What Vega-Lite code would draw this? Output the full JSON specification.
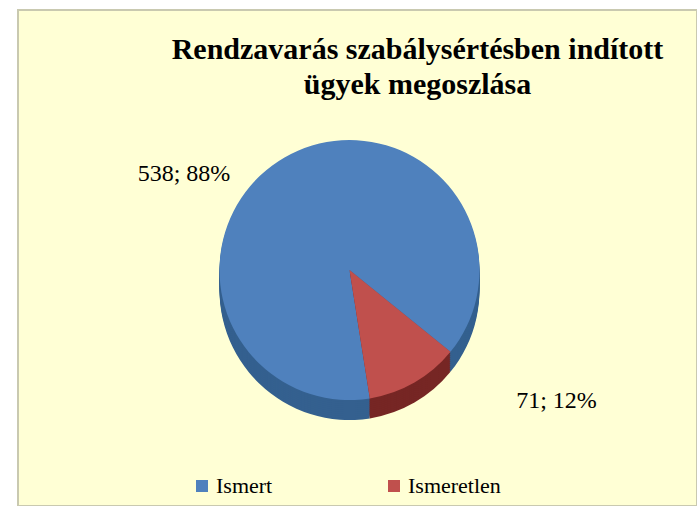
{
  "$schema": "https://vega.github.io/schema/vega-lite/v6.json",
  "autosize": "none",
  "width": 679,
  "height": 496,
  "padding": {"left": 18, "top": 10, "right": 0, "bottom": 0},
  "background": "#FFFFFF",
  "view": {"fill": "#FFFFD5", "stroke": "#C9C9B0", "strokeWidth": 2},
  "config": {
    "legend": {"labelFont": "Liberation Serif", "labelFontSize": 22, "labelColor": "#000000", "labelOffset": 3, "symbolType": "square", "symbolSize": 144, "symbolStrokeWidth": 0}
  },
  "title": {
    "text": ["Rendzavarás szabálysértésben indított", "ügyek megoszlása"],
    "font": "Liberation Serif",
    "fontSize": 30,
    "fontWeight": "bold",
    "color": "#000000",
    "anchor": "middle",
    "frame": "group",
    "baseline": "top",
    "lineHeight": 35,
    "offset": -90,
    "dx": 60
  },
  "data": {
    "values": [
      {"status": "Ismert", "count": 538, "label": "538; 88%", "order": 1},
      {"status": "Ismeretlen", "count": 71, "label": "71; 12%", "order": 2}
    ]
  },
  "encoding": {
    "theta": {"field": "count", "type": "quantitative", "stack": true, "scale": {"range": [2.9845, 9.2677]}},
    "order": {"field": "order", "type": "quantitative"}
  },
  "resolve": {"scale": {"color": "independent"}, "legend": {"color": "independent"}},
  "layer": [
    {
      "encoding": {"color": {"field": "status", "type": "nominal", "legend": null, "scale": {"domain": ["Ismert", "Ismeretlen"], "range": ["#34608F", "#762624"]}}},
      "layer": [
        {"mark": {"type": "arc", "outerRadius": 130, "xOffset": -8, "yOffset": 32}},
        {"mark": {"type": "arc", "outerRadius": 130, "xOffset": -8, "yOffset": 30}},
        {"mark": {"type": "arc", "outerRadius": 130, "xOffset": -8, "yOffset": 28}},
        {"mark": {"type": "arc", "outerRadius": 130, "xOffset": -8, "yOffset": 26}},
        {"mark": {"type": "arc", "outerRadius": 130, "xOffset": -8, "yOffset": 24}},
        {"mark": {"type": "arc", "outerRadius": 130, "xOffset": -8, "yOffset": 22}},
        {"mark": {"type": "arc", "outerRadius": 130, "xOffset": -8, "yOffset": 20}},
        {"mark": {"type": "arc", "outerRadius": 130, "xOffset": -8, "yOffset": 18}},
        {"mark": {"type": "arc", "outerRadius": 130, "xOffset": -8, "yOffset": 16}},
        {"mark": {"type": "arc", "outerRadius": 130, "xOffset": -8, "yOffset": 14}}
      ]
    },
    {
      "mark": {"type": "arc", "outerRadius": 130, "xOffset": -8, "yOffset": 12},
      "encoding": {
        "color": {
          "field": "status", "type": "nominal",
          "scale": {"domain": ["Ismert", "Ismeretlen"], "range": ["#4F81BD", "#C0504D"]},
          "sort": ["Ismert", "Ismeretlen"],
          "legend": {
            "title": null,
            "orient": "none",
            "legendX": 173,
            "legendY": 465,
            "direction": "horizontal",
            "columnPadding": 110,
            "symbolType": "square",
            "symbolSize": 144,
            "symbolStrokeWidth": 0,
            "labelFont": "Liberation Serif",
            "labelFontSize": 22,
            "labelColor": "#000000",
            "labelOffset": 3
          }
        }
      }
    },
    {
      "transform": [
        {"stack": "count", "groupby": [], "sort": [{"field": "order", "order": "ascending"}], "as": ["c0", "c1"]},
        {"calculate": "(datum.c0 + datum.c1) / 2", "as": "mid"},
        {"filter": "datum.status == 'Ismert'"}
      ],
      "mark": {"type": "text", "radius": 125, "xOffset": -8, "yOffset": 12, "dx": -103, "dy": 12, "font": "Liberation Serif", "fontSize": 24, "color": "#000000", "align": "center", "baseline": "middle"},
      "encoding": {
        "theta": {"field": "mid", "type": "quantitative", "stack": null},
        "order": null,
        "text": {"field": "label"}
      }
    },
    {
      "transform": [
        {"stack": "count", "groupby": [], "sort": [{"field": "order", "order": "ascending"}], "as": ["c0", "c1"]},
        {"calculate": "(datum.c0 + datum.c1) / 2", "as": "mid"},
        {"filter": "datum.status == 'Ismeretlen'"}
      ],
      "mark": {"type": "text", "radius": 140, "xOffset": -8, "yOffset": 12, "dx": 137, "dy": 10, "font": "Liberation Serif", "fontSize": 24, "color": "#000000", "align": "center", "baseline": "middle"},
      "encoding": {
        "theta": {"field": "mid", "type": "quantitative", "stack": null},
        "order": null,
        "text": {"field": "label"}
      }
    }
  ]
}
